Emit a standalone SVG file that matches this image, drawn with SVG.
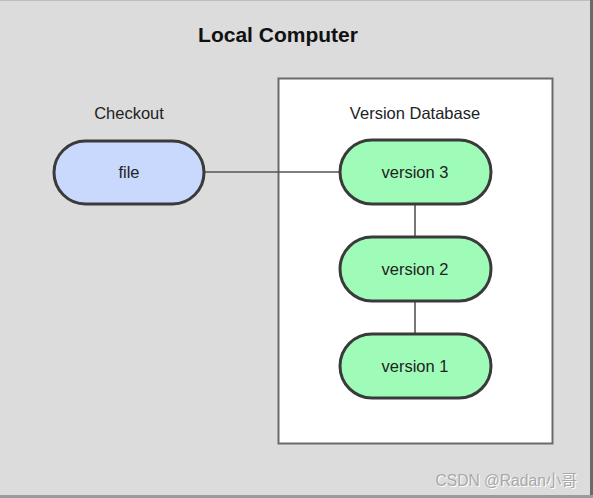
<svg xmlns="http://www.w3.org/2000/svg" width="593" height="498" viewBox="0 0 593 498">
<style>
.lbl{font-family:"Liberation Sans",Arial,sans-serif;font-size:16.5px;fill:#222;text-anchor:middle}
.ver{fill:#9ffcb8;stroke:#3a3a3a;stroke-width:3}
.conn{stroke:#555;stroke-width:1.6;fill:none}
</style>
<rect x="0" y="0" width="593" height="498" fill="#dcdcdc"/>
<line x1="0" y1="0.5" x2="593" y2="0.5" stroke="#bdbdbd"/>
<rect x="590" y="0" width="3" height="498" fill="#6a6a6a"/>
<rect x="0" y="495" width="593" height="3" fill="#9a9a9a"/>
<text x="278" y="42" style="font-family:'Liberation Sans',Arial,sans-serif;font-size:21px;font-weight:bold;fill:#111;text-anchor:middle">Local Computer</text>
<text class="lbl" x="129" y="119">Checkout</text>
<g id="database">
<rect x="278.5" y="78.5" width="274" height="365" fill="#fff" stroke="#6a6a6a" stroke-width="2"/>
<text class="lbl" x="415" y="119">Version Database</text>
</g>
<g id="connectors">
<line class="conn" x1="204" y1="172" x2="340" y2="172"/>
<line class="conn" x1="415" y1="204" x2="415" y2="237"/>
<line class="conn" x1="415" y1="301" x2="415" y2="334"/>
</g>
<g id="file">
<rect x="54" y="141" width="150" height="63" rx="31.5" fill="#c9d9fd" stroke="#3a3a3a" stroke-width="3"/>
<text class="lbl" x="129" y="178">file</text>
</g>
<g id="version3">
<rect class="ver" x="340" y="140" width="151" height="64" rx="32"/>
<text class="lbl" x="415" y="178">version 3</text>
</g>
<g id="version2">
<rect class="ver" x="340" y="237" width="151" height="64" rx="32"/>
<text class="lbl" x="415" y="275">version 2</text>
</g>
<g id="version1">
<rect class="ver" x="340" y="334" width="151" height="64" rx="32"/>
<text class="lbl" x="415" y="372">version 1</text>
</g>
<text x="578" y="487" style="font-family:'Liberation Sans','Noto Sans CJK SC',sans-serif;font-size:15.6px;fill:#fff;text-anchor:end">CSDN @Radan小哥</text>
<text x="577" y="486" style="font-family:'Liberation Sans','Noto Sans CJK SC',sans-serif;font-size:15.6px;fill:#a8a8a8;text-anchor:end">CSDN @Radan小哥</text>
</svg>
